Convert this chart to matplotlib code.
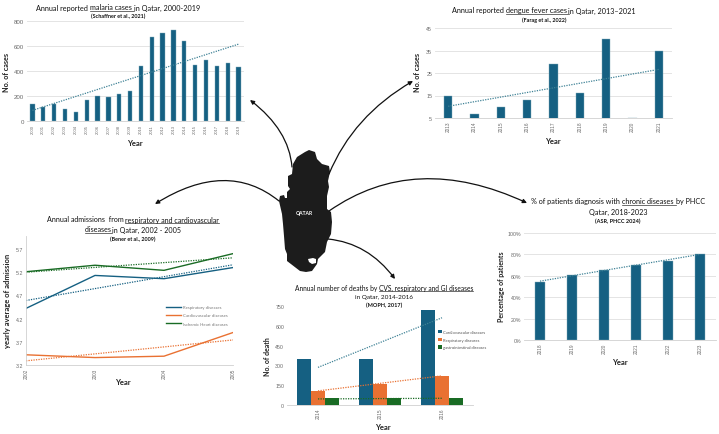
import matplotlib
matplotlib.use("Agg")
import matplotlib.pyplot as plt
from matplotlib.patches import FancyArrowPatch, Polygon
from matplotlib.path import Path

plt.rcParams["font.family"] = ["Lato", "DejaVu Sans"]

W, H = 719, 435
BLUE = "#156082"
ORANGE = "#E97132"
GREEN = "#196B24"
GRID = "#e4e4e4"
TICK = "#6a6a6a"

malaria_years = list(range(2000, 2020))
malaria_cases = [138, 115, 140, 95, 70, 168, 197, 192, 217, 237, 443, 670, 705, 730, 643, 448, 492, 443, 467, 433]
malaria_trend = [85, 615]

dengue_years = list(range(2013, 2022))
dengue_cases = [15, 7, 10, 13, 29, 16, 40, 5, 35]
dengue_trend = [10.2, 26.6]

adm_years = [2002, 2003, 2004, 2005]
adm_resp = [4.42, 5.13, 5.06, 5.30]
adm_cardio = [3.42, 3.36, 3.39, 3.90]
adm_ihd = [5.21, 5.35, 5.24, 5.60]
adm_resp_trend = [4.59, 5.36]
adm_cardio_trend = [3.29, 3.74]
adm_ihd_trend = [5.20, 5.51]

death_years = [2014, 2015, 2016]
death_cvs = [350, 350, 722]
death_resp = [107, 160, 222]
death_gi = [50, 50, 50]
death_cvs_trend = [285, 661]
death_resp_trend = [107, 221]
death_gi_trend = [46, 51]

phcc_years = [2018, 2019, 2020, 2021, 2022, 2023]
phcc_pct = [54, 61, 65, 70, 74, 80]
phcc_trend = [55, 80]

# outline of the peninsula, in picture pixels
qatar_x = [309, 315, 317, 322, 329, 330, 328, 329, 327, 327, 331, 332, 331, 327, 325, 318, 317, 312,
           306, 300, 287, 287, 285, 284, 283, 282, 279, 280, 284, 285, 287, 287, 290, 288, 288, 292, 293, 297, 305]
qatar_y = [151, 153, 160, 165, 167, 173, 182, 188, 197, 210, 213, 223, 235, 243, 253, 260, 265, 272,
           273, 272, 262, 255, 250, 237, 225, 215, 202, 197, 196, 199, 199, 193, 190, 187, 177, 175, 165, 158, 153]
notch_x = [308, 313, 316, 316, 312, 309]
notch_y = [260, 259, 260, 264, 265, 263]


def px_axes(fig, left, top, right, bottom):
    ax = fig.add_axes([left / W, 1 - bottom / H, (right - left) / W, (bottom - top) / H])
    for side in ["top", "right"]:
        ax.spines[side].set_visible(False)
    ax.spines["left"].set_visible(False)
    ax.spines["bottom"].set_color("#d0d0d0")
    ax.spines["bottom"].set_linewidth(0.6)
    ax.set_axisbelow(True)
    ax.tick_params(length=0, pad=2)
    return ax


def finish(ax, years, yticks, ylabels, ylabel, xlab_px, ylab_px, ytick_size=3.8, ylabel_size=5.2):
    ax.set_yticks(yticks)
    ax.set_yticklabels(ylabels, fontsize=ytick_size, color=TICK, family="Liberation Sans")
    ax.set_xticks(range(len(years)))
    ax.set_xticklabels(years, rotation=90, fontsize=3.4, color=TICK, family="Liberation Sans")
    fig.text(xlab_px[0] / W, 1 - xlab_px[1] / H, "Year", fontsize=5.5, fontweight="bold",
             ha="center", va="center", color="#222222")
    fig.text(ylab_px[0] / W, 1 - ylab_px[1] / H, ylabel, fontsize=ylabel_size, fontweight="bold",
             rotation=90, ha="center", va="center", color="#222222")


def bars(ax, years, values, width):
    x = list(range(len(years)))
    ax.bar(x, values, width=width, color=BLUE, edgecolor="#7fa9bb", linewidth=0.3)
    ax.set_xlim(-0.5, len(years) - 0.5)
    ax.yaxis.grid(True, color=GRID, linewidth=0.7)


def trend(ax, x, y, color):
    ax.plot(x, y, color=color, linestyle=(0, (1, 1)), linewidth=0.9)


def title_line(fig, cx, cy, parts, size=5.2, weight="normal", style="normal"):
    # pieces of one centred line, some of them underlined
    r = fig.canvas.get_renderer()
    pieces = []
    total = 0
    for text, under in parts:
        t = fig.text(0, 0, text, fontsize=size, fontweight=weight, fontstyle=style,
                     color="#111111", va="center", ha="left")
        # measure with a dot so that trailing spaces count
        t.set_text(text + ".")
        w1 = t.get_window_extent(r).width
        t.set_text(".")
        w2 = t.get_window_extent(r).width
        t.set_text(text)
        pieces.append((t, w1 - w2, under))
        total += w1 - w2
    x = cx - total / 2
    for t, w, under in pieces:
        t.set_position((x / W, 1 - cy / H))
        if under:
            fig.add_artist(plt.Line2D([x / W, (x + w) / W], [1 - (cy + 3.6) / H] * 2,
                                      color="#333333", linewidth=0.5))
        x += w


fig = plt.figure(figsize=(W / 100, H / 100), dpi=100)
fig.canvas.get_renderer()

# malaria
ax1 = px_axes(fig, 27, 22, 244, 122)
bars(ax1, malaria_years, malaria_cases, 0.4)
trend(ax1, [0, len(malaria_years) - 1], malaria_trend, "#3f8296")
ax1.set_ylim(0, 800)
finish(ax1, malaria_years, [0, 200, 400, 600, 800], ["0", "200", "400", "600", "800"],
       "No. of cases", (135, 144), (7, 72), 4.4)
ax1.tick_params(axis="x", labelsize=3.0)
title_line(fig, 118, 8, [("Annual reported ", False), ("malaria cases ", True), ("in Qatar, 2000-2019", False)])
title_line(fig, 118, 16, [("(Schaffner et al., 2021)", False)], 3.9, "bold")

# dengue
ax2 = px_axes(fig, 435, 29, 672, 119)
bars(ax2, dengue_years, dengue_cases, 0.32)
trend(ax2, [0, len(dengue_years) - 1], dengue_trend, "#3f8296")
ax2.set_ylim(5, 45)
finish(ax2, dengue_years, [5, 15, 25, 35, 45], ["5", "15", "25", "35", "45"],
       "No. of cases", (553, 141), (418, 73))
title_line(fig, 544, 11, [("Annual reported ", False), ("dengue fever cases ", True), ("in Qatar, 2013\u20132021", False)])
title_line(fig, 544, 20, [("(Farag et al., 2022)", False)], 3.9, "bold")

# admissions
ax3 = px_axes(fig, 26, 237, 233, 366)
x3 = list(range(len(adm_years)))
ax3.plot(x3, adm_resp, color=BLUE, linewidth=1.0, label="Respiratory diseases")
ax3.plot(x3, adm_cardio, color=ORANGE, linewidth=1.0, label="Cardiovascular diseases")
ax3.plot(x3, adm_ihd, color=GREEN, linewidth=1.0, label="Ischemic Heart diseases")
trend(ax3, [0, 3], adm_resp_trend, BLUE)
trend(ax3, [0, 3], adm_cardio_trend, ORANGE)
trend(ax3, [0, 3], adm_ihd_trend, GREEN)
ax3.set_xlim(0, 3)
ax3.set_ylim(3.2, 5.98)
ax3.spines["left"].set_visible(True)
ax3.spines["left"].set_color("#d0d0d0")
ax3.spines["left"].set_linewidth(0.6)
finish(ax3, adm_years, [3.2, 3.7, 4.2, 4.7, 5.2, 5.7], ["3.2", "3.7", "4.2", "4.7", "5.2", "5.7"],
       "yearly average of admission", (123, 383), (8, 301), ylabel_size=5.5)
ax3.legend(loc="center left", bbox_to_anchor=(0.66, 0.385), frameon=False, fontsize=3.1,
           labelcolor="#777777", handlelength=3.4, labelspacing=1.0, handletextpad=0.5)
title_line(fig, 133, 220, [("Annual admissions  from ", False), ("respiratory and cardiovascular", True)], 5.15)
title_line(fig, 133, 230, [("diseases ", True), ("in Qatar, 2002 - 2005", False)], 5.15)
title_line(fig, 133, 239, [("(Bener et al., 2009)", False)], 3.9, "bold")

# deaths
ax4 = px_axes(fig, 287, 307, 473, 406)
w4 = 0.224
x4 = list(range(len(death_years)))
ax4.bar([i - w4 for i in x4], death_cvs, width=w4, color=BLUE, label="Cardiovascular diseases")
ax4.bar(x4, death_resp, width=w4, color=ORANGE, label="Respiratory diseases")
ax4.bar([i + w4 for i in x4], death_gi, width=w4, color=GREEN, label="gastrointestinal diseases")
trend(ax4, [0, 2], death_cvs_trend, "#3f8296")
trend(ax4, [0, 2], death_resp_trend, ORANGE)
trend(ax4, [0, 2], death_gi_trend, GREEN)
ax4.set_xlim(-0.5, 2.5)
ax4.set_ylim(0, 750)
finish(ax4, death_years, [0, 150, 300, 450, 600, 750], ["0", "150", "300", "450", "600", "750"],
       "No. of death", (383, 428), (267, 357), ylabel_size=5.0)
ax4.legend(loc="center left", bbox_to_anchor=(0.81, 0.66), frameon=False, fontsize=3.0,
           labelcolor="#555555", handlelength=1.0, handleheight=0.8, labelspacing=0.9,
           handletextpad=0.2, borderpad=0, borderaxespad=0)
title_line(fig, 384, 288, [("Annual number of deaths by ", False), ("CVS, respiratory and GI diseases", True)], 4.8)
title_line(fig, 384, 297, [("in Qatar, 2014-2016", False)], 4.6)
title_line(fig, 384, 305, [("(MOPH, 2017)", False)], 4.0, "bold")

# chronic diseases
ax5 = px_axes(fig, 524, 234, 716, 341)
bars(ax5, phcc_years, phcc_pct, 0.31)
trend(ax5, [0, len(phcc_years) - 1], phcc_trend, "#3f8296")
ax5.set_ylim(0, 100)
finish(ax5, phcc_years, [0, 20, 40, 60, 80, 100], ["0%", "20%", "40%", "60%", "80%", "100%"],
       "Percentage of patients", (620, 363), (502, 287), ylabel_size=5.0)
title_line(fig, 618, 202, [("% of patients diagnosis with ", False), ("chronic diseases ", True), ("by PHCC", False)], 5.2)
title_line(fig, 618, 212, [("Qatar, 2018-2023", False)])
title_line(fig, 618, 221, [("(ASR, PHCC 2024)", False)], 4.0, "bold")

# overlay in picture pixels for the map and the arrows
over = fig.add_axes([0, 0, 1, 1], facecolor="none")
over.set_xlim(0, W)
over.set_ylim(H, 0)
over.axis("off")
over.add_patch(Polygon(list(zip(qatar_x, qatar_y)), closed=True, facecolor="#1c1c1c", edgecolor="none"))
over.add_patch(Polygon(list(zip(notch_x, notch_y)), closed=True, facecolor="white", edgecolor="none"))
over.text(304, 213.5, "QATAR", color="white", fontsize=3.6, fontweight="bold", ha="center", va="center")

arrows = [
    ((292, 168), (289, 131), (250, 101)),
    ((329, 175), (353, 117), (413, 82)),
    ((279, 202), (227, 160), (155, 205)),
    ((329, 212), (415, 152), (527, 204)),
    ((328, 240), (368, 244), (395, 280)),
]
for start, ctrl, end in arrows:
    curve = Path([start, ctrl, end], [Path.MOVETO, Path.CURVE3, Path.CURVE3])
    over.add_patch(FancyArrowPatch(path=curve, arrowstyle="-|>", mutation_scale=6,
                                   linewidth=0.9, color="#111111"))

fig.savefig("out.png", dpi=100)
